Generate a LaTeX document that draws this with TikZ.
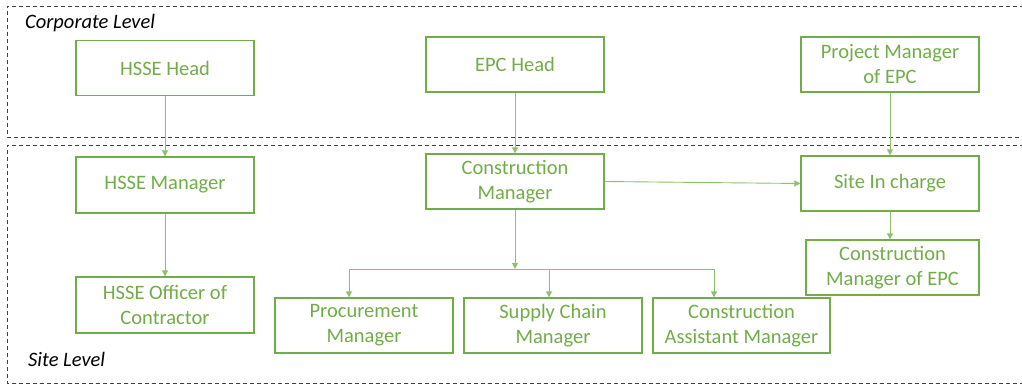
\documentclass[tikz,border=0pt]{standalone}
\usepackage{fontspec}
\setmainfont{Carlito}
\usetikzlibrary{arrows.meta}
\definecolor{leaf}{RGB}{112,173,71}
\definecolor{leaflight}{RGB}{140,194,106}
\definecolor{dashgray}{RGB}{64,64,64}
\tikzset{
  rolebox/.style={draw=leaf, line width=1.2pt, text=leaf, align=center,
    minimum height=55pt, inner sep=0pt,
    font=\fontsize{20.5}{25}\selectfont},
  link/.style={draw=leaflight, line width=0.9pt,
    -{Triangle[length=6pt,width=6pt]}},
  plainlink/.style={draw=leaflight, line width=0.9pt},
  levelframe/.style={draw=dashgray, line width=0.9pt, dash pattern=on 4pt off 3pt},
  levelname/.style={font=\itshape\fontsize{20.5}{22}\selectfont, text=black, inner sep=0pt, anchor=base west}
}
\begin{document}
\begin{tikzpicture}[x=1pt,y=-1pt]
\useasboundingbox (0,0) rectangle (1022,385);

% level frames, open on the right
\draw[levelframe] (1024,6) -- (7,6) -- (7,137) -- (1024,137);
\draw[levelframe] (1024,145) -- (7,145) -- (7,383) -- (1024,383);
\node[levelname] (corp) at (25,29) {Corporate Level};
\node[levelname] (sitelvl) at (28,366) {Site Level};

% corporate level
\node[rolebox, minimum width=178pt] (hsseHead) at (165,68) {HSSE Head};
\node[rolebox, minimum width=178pt] (epcHead) at (515,64.5) {EPC Head};
\node[rolebox, minimum width=178pt] (pmEPC) at (890,64.5) {Project Manager\\of EPC};

% site level
\node[rolebox, minimum width=178pt, minimum height=56pt] (hsseMgr) at (165,185) {HSSE Manager};
\node[rolebox, minimum width=178pt] (cm) at (515,181.5) {Construction\\Manager};
\node[rolebox, minimum width=178pt] (site) at (890,183.5) {Site In charge};
\node[rolebox, minimum width=173pt] (cmEPC) at (892.5,267.5) {Construction\\Manager of EPC};
\node[rolebox, minimum width=178pt, minimum height=56pt] (hsseOff) at (165,305) {HSSE Officer of\\Contractor};
\node[rolebox, minimum width=178pt] (proc) at (364,325.5) {Procurement\\Manager};
\node[rolebox, minimum width=178pt] (supply) at (553,325.5) {Supply Chain\\Manager};
\node[rolebox, minimum width=177pt] (cam) at (741.5,325.5) {Construction\\Assistant Manager};

% reporting lines
\draw[link] (hsseHead.south) -- (hsseMgr.north);
\draw[link] (hsseMgr.south) -- (hsseOff.north);
\draw[link] (epcHead.south) -- (cm.north);
\draw[link] (pmEPC.south) -- (site.north);
\draw[link] (site.south) -- (site.south |- cmEPC.north);
\draw[link] (cm.east) -- (site.west);

% branch under the construction manager
\coordinate (br) at (515,269);
\coordinate (brA) at (349,269);
\coordinate (brB) at (549,269);
\coordinate (brC) at (714,269);
\draw[link] (cm.south) -- (br);
\draw[plainlink] (brA) -- (brC);
\draw[link] (brA) -- (brA |- proc.north);
\draw[link] (brB) -- (brB |- supply.north);
\draw[link] (brC) -- (brC |- cam.north);
\end{tikzpicture}
\end{document}
